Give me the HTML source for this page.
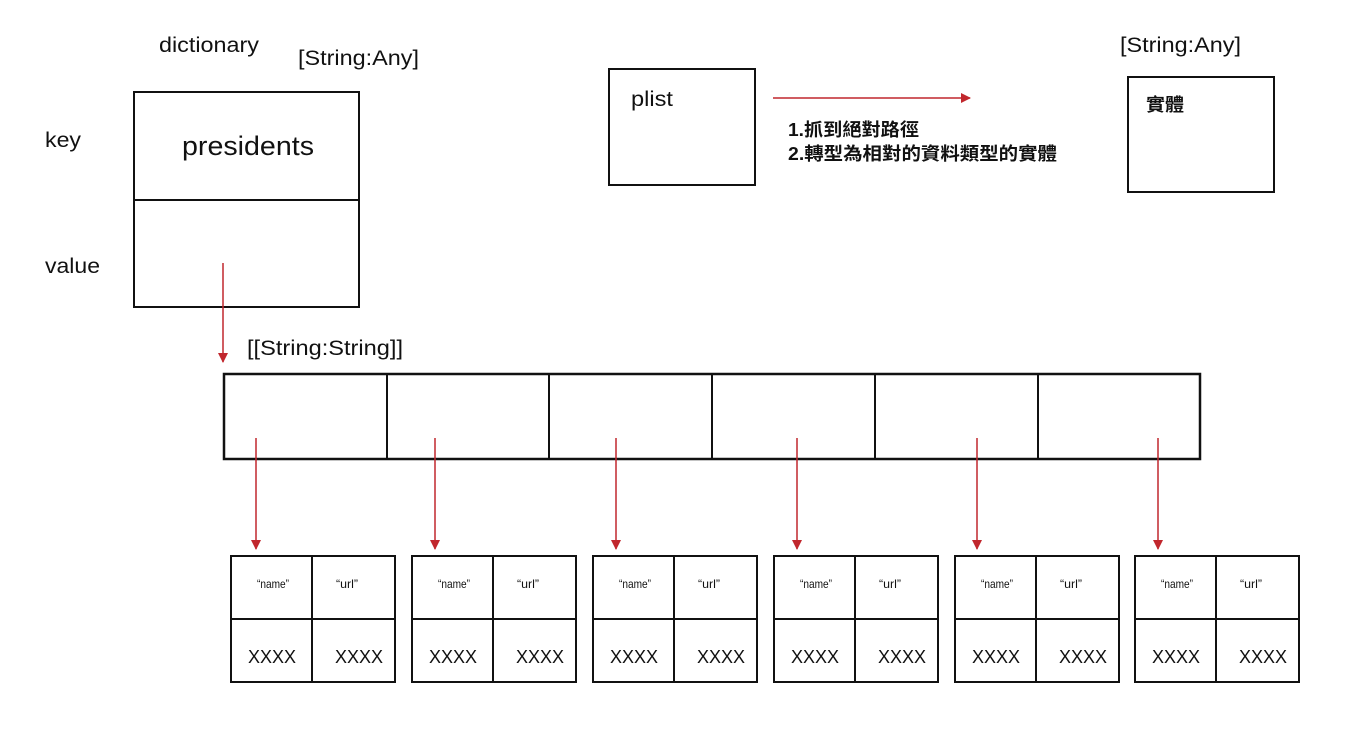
<!DOCTYPE html>
<html><head><meta charset="utf-8"><style>
html,body{margin:0;padding:0;background:#fff;}
svg{display:block;}
text{font-family:"Liberation Sans","Noto Sans CJK TC",sans-serif;fill:#111;}
</style></head><body>
<svg width="1367" height="733" viewBox="0 0 1367 733" xmlns="http://www.w3.org/2000/svg">
<defs>
<marker id="ah" markerWidth="10" markerHeight="10" refX="9" refY="5" orient="auto" markerUnits="userSpaceOnUse">
<path d="M0,0 L10,5 L0,10 Z" fill="#c1272d"/>
</marker>
</defs>
<g fill="none" stroke="#111" stroke-width="2">
<rect x="134" y="92" width="225" height="215"/>
<line x1="134" y1="200" x2="359" y2="200"/>
<rect x="609" y="69" width="146" height="116"/>
<rect x="1128" y="77" width="146" height="115"/>
<rect x="224" y="374" width="976" height="85" stroke-width="2.5"/>
<line x1="387" y1="374" x2="387" y2="459"/>
<line x1="549" y1="374" x2="549" y2="459"/>
<line x1="712" y1="374" x2="712" y2="459"/>
<line x1="875" y1="374" x2="875" y2="459"/>
<line x1="1038" y1="374" x2="1038" y2="459"/>
</g>
<g stroke="#c1272d" stroke-width="1.5" marker-end="url(#ah)">
<line x1="223" y1="263" x2="223" y2="362"/>
<line x1="773" y1="98" x2="970" y2="98"/>
<line x1="256" y1="438" x2="256" y2="549"/>
<line x1="435" y1="438" x2="435" y2="549"/>
<line x1="616" y1="438" x2="616" y2="549"/>
<line x1="797" y1="438" x2="797" y2="549"/>
<line x1="977" y1="438" x2="977" y2="549"/>
<line x1="1158" y1="438" x2="1158" y2="549"/>
</g>
<text x="159" y="52" font-size="21" textLength="100" lengthAdjust="spacingAndGlyphs">dictionary</text>
<text x="298" y="65" font-size="21" textLength="121" lengthAdjust="spacingAndGlyphs">[String:Any]</text>
<text x="45" y="147" font-size="21" textLength="36" lengthAdjust="spacingAndGlyphs">key</text>
<text x="182" y="155" font-size="27" textLength="132" lengthAdjust="spacingAndGlyphs">presidents</text>
<text x="45" y="273" font-size="21" textLength="55" lengthAdjust="spacingAndGlyphs">value</text>
<text x="247" y="355" font-size="21" textLength="156" lengthAdjust="spacingAndGlyphs">[[String:String]]</text>
<text x="631" y="106" font-size="21" textLength="42" lengthAdjust="spacingAndGlyphs">plist</text>
<text x="788" y="136" font-size="18" font-weight="bold" textLength="131" lengthAdjust="spacingAndGlyphs">1.抓到絕對路徑</text>
<text x="788" y="160" font-size="18" font-weight="bold" textLength="269" lengthAdjust="spacingAndGlyphs">2.轉型為相對的資料類型的實體</text>
<text x="1120" y="52" font-size="21" textLength="121" lengthAdjust="spacingAndGlyphs">[String:Any]</text>
<text x="1146" y="111" font-size="18" font-weight="bold" textLength="38" lengthAdjust="spacingAndGlyphs">實體</text>
<g id="cells">
<g transform="translate(231,0)">
<rect x="0" y="556" width="164" height="126" fill="none" stroke="#111" stroke-width="2"/>
<line x1="81" y1="556" x2="81" y2="682" stroke="#111" stroke-width="2"/>
<line x1="0" y1="619" x2="164" y2="619" stroke="#111" stroke-width="2"/>
<text x="26" y="588" font-size="12" textLength="32" lengthAdjust="spacingAndGlyphs">“name”</text><text x="105" y="588" font-size="12" textLength="22" lengthAdjust="spacingAndGlyphs">“url”</text>
<text x="17" y="663" font-size="18">XXXX</text><text x="104" y="663" font-size="18">XXXX</text>
</g>
<g transform="translate(412,0)">
<rect x="0" y="556" width="164" height="126" fill="none" stroke="#111" stroke-width="2"/>
<line x1="81" y1="556" x2="81" y2="682" stroke="#111" stroke-width="2"/>
<line x1="0" y1="619" x2="164" y2="619" stroke="#111" stroke-width="2"/>
<text x="26" y="588" font-size="12" textLength="32" lengthAdjust="spacingAndGlyphs">“name”</text><text x="105" y="588" font-size="12" textLength="22" lengthAdjust="spacingAndGlyphs">“url”</text>
<text x="17" y="663" font-size="18">XXXX</text><text x="104" y="663" font-size="18">XXXX</text>
</g>
<g transform="translate(593,0)">
<rect x="0" y="556" width="164" height="126" fill="none" stroke="#111" stroke-width="2"/>
<line x1="81" y1="556" x2="81" y2="682" stroke="#111" stroke-width="2"/>
<line x1="0" y1="619" x2="164" y2="619" stroke="#111" stroke-width="2"/>
<text x="26" y="588" font-size="12" textLength="32" lengthAdjust="spacingAndGlyphs">“name”</text><text x="105" y="588" font-size="12" textLength="22" lengthAdjust="spacingAndGlyphs">“url”</text>
<text x="17" y="663" font-size="18">XXXX</text><text x="104" y="663" font-size="18">XXXX</text>
</g>
<g transform="translate(774,0)">
<rect x="0" y="556" width="164" height="126" fill="none" stroke="#111" stroke-width="2"/>
<line x1="81" y1="556" x2="81" y2="682" stroke="#111" stroke-width="2"/>
<line x1="0" y1="619" x2="164" y2="619" stroke="#111" stroke-width="2"/>
<text x="26" y="588" font-size="12" textLength="32" lengthAdjust="spacingAndGlyphs">“name”</text><text x="105" y="588" font-size="12" textLength="22" lengthAdjust="spacingAndGlyphs">“url”</text>
<text x="17" y="663" font-size="18">XXXX</text><text x="104" y="663" font-size="18">XXXX</text>
</g>
<g transform="translate(955,0)">
<rect x="0" y="556" width="164" height="126" fill="none" stroke="#111" stroke-width="2"/>
<line x1="81" y1="556" x2="81" y2="682" stroke="#111" stroke-width="2"/>
<line x1="0" y1="619" x2="164" y2="619" stroke="#111" stroke-width="2"/>
<text x="26" y="588" font-size="12" textLength="32" lengthAdjust="spacingAndGlyphs">“name”</text><text x="105" y="588" font-size="12" textLength="22" lengthAdjust="spacingAndGlyphs">“url”</text>
<text x="17" y="663" font-size="18">XXXX</text><text x="104" y="663" font-size="18">XXXX</text>
</g>
<g transform="translate(1135,0)">
<rect x="0" y="556" width="164" height="126" fill="none" stroke="#111" stroke-width="2"/>
<line x1="81" y1="556" x2="81" y2="682" stroke="#111" stroke-width="2"/>
<line x1="0" y1="619" x2="164" y2="619" stroke="#111" stroke-width="2"/>
<text x="26" y="588" font-size="12" textLength="32" lengthAdjust="spacingAndGlyphs">“name”</text><text x="105" y="588" font-size="12" textLength="22" lengthAdjust="spacingAndGlyphs">“url”</text>
<text x="17" y="663" font-size="18">XXXX</text><text x="104" y="663" font-size="18">XXXX</text>
</g>
</g>
</svg>
</body></html>
